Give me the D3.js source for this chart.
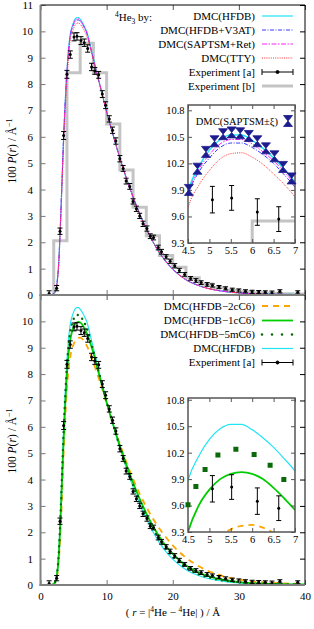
<!DOCTYPE html>
<html lang="en">
<head>
<meta charset="UTF-8" />
<title>4He3 P(r)</title>
<script src="https://d3js.org/d3.v7.min.js"></script>
<style>
  body { margin: 0; background: #fff; }
  svg { display: block; font-family: "Liberation Serif", "DejaVu Serif", serif; }
</style>
</head>
<body>
<svg width="314" height="629"></svg>
<script>
// ---- data ----
const rGrid = [1.5, 2, 2.25, 2.5, 2.75, 3, 3.25, 3.5, 3.75, 4, 4.25, 4.5, 4.75, 5, 5.25,
  5.5, 5.75, 6, 6.25, 6.5, 6.75, 7, 7.5, 8, 8.5, 9, 9.5, 10, 11, 12,
  13, 14, 15, 16, 17, 18, 19, 20, 22, 24, 26, 28, 30, 32, 35, 38, 40];

const hfdb = [0, 0.05, 0.15, 0.45, 1.2, 2.6, 4.3, 6.0, 7.4, 8.5, 9.35, 9.89, 10.16, 10.35, 10.47,
  10.52, 10.52, 10.46, 10.37, 10.26, 10.13, 9.99, 9.5, 8.98, 8.45, 7.95, 7.45, 6.95, 6.05, 5.2,
  4.42, 3.72, 3.08, 2.52, 2.02, 1.6, 1.26, 0.98, 0.58, 0.35, 0.21, 0.13, 0.08, 0.05, 0.03, 0.02, 0.015];
const v3at = [0, 0.05, 0.15, 0.45, 1.2, 2.6, 4.3, 5.98, 7.37, 8.45, 9.28, 9.84, 10.1, 10.26, 10.38,
  10.43, 10.43, 10.38, 10.3, 10.2, 10.07, 9.93, 9.45, 8.95, 8.43, 7.94, 7.44, 6.95, 6.05, 5.2,
  4.42, 3.72, 3.08, 2.52, 2.02, 1.6, 1.26, 0.98, 0.58, 0.35, 0.21, 0.13, 0.08, 0.05, 0.03, 0.02, 0.015];
const saptRet = [0, 0.05, 0.15, 0.45, 1.2, 2.6, 4.3, 6.0, 7.38, 8.47, 9.3, 9.86, 10.13, 10.3, 10.42,
  10.47, 10.47, 10.42, 10.33, 10.23, 10.1, 9.96, 9.47, 8.96, 8.44, 7.95, 7.45, 6.95, 6.05, 5.2,
  4.42, 3.72, 3.08, 2.52, 2.02, 1.6, 1.26, 0.98, 0.58, 0.35, 0.21, 0.13, 0.08, 0.05, 0.03, 0.02, 0.015];
const tty = [0, 0.05, 0.14, 0.42, 1.12, 2.45, 4.1, 5.75, 7.1, 8.15, 9.0, 9.69, 9.95, 10.12, 10.25,
  10.31, 10.32, 10.27, 10.19, 10.08, 9.96, 9.82, 9.38, 8.9, 8.4, 7.92, 7.43, 6.94, 6.05, 5.2,
  4.42, 3.72, 3.08, 2.52, 2.02, 1.6, 1.26, 0.98, 0.58, 0.35, 0.21, 0.13, 0.08, 0.05, 0.03, 0.02, 0.015];

const c6m2 = [0, 0.03, 0.1, 0.32, 0.88, 1.9, 3.3, 5.0, 6.35, 7.45, 8.2, 8.65, 8.95, 9.13, 9.26,
  9.33, 9.37, 9.38, 9.35, 9.29, 9.2, 9.08, 8.78, 8.43, 8.07, 7.7, 7.3, 6.9, 6.1, 5.35,
  4.65, 4.02, 3.46, 2.96, 2.52, 2.13, 1.8, 1.5, 1.04, 0.7, 0.47, 0.31, 0.21, 0.14, 0.08, 0.05, 0.035];
const c6m1 = [0, 0.04, 0.13, 0.4, 1.05, 2.3, 3.9, 5.5, 6.9, 8.0, 8.78, 9.3, 9.6, 9.78, 9.9,
  9.96, 9.98, 9.96, 9.9, 9.8, 9.68, 9.55, 9.2, 8.8, 8.32, 7.85, 7.38, 6.92, 6.08, 5.28,
  4.55, 3.88, 3.27, 2.72, 2.24, 1.82, 1.47, 1.18, 0.74, 0.46, 0.29, 0.18, 0.11, 0.07, 0.04, 0.025, 0.02];
const c6m5 = [0, 0.05, 0.14, 0.43, 1.15, 2.5, 4.15, 5.85, 7.2, 8.3, 9.1, 9.61, 9.88, 10.08, 10.19,
  10.24, 10.24, 10.19, 10.12, 10.02, 9.89, 9.74, 9.3, 8.87, 8.38, 7.9, 7.42, 6.95, 6.07, 5.24,
  4.49, 3.8, 3.18, 2.62, 2.13, 1.71, 1.36, 1.08, 0.66, 0.4, 0.25, 0.16, 0.1, 0.065, 0.035, 0.022, 0.017];

const expR = [1.3, 2.45, 2.95, 3.5, 4.0, 4.5, 5.07, 5.52, 6.12, 6.62, 7.14, 7.72, 8.22, 8.8, 9.35,
  9.85, 10.4, 10.9, 11.4, 12.0, 12.5, 12.95, 13.5, 14.0, 14.5, 15.0, 15.5, 16.1, 16.6, 17.1,
  17.8, 18.3, 19.0, 19.6, 20.3, 21.0, 21.8, 22.7, 23.5, 24.3, 25.2, 26.0, 27.0, 28.0, 29.0,
  30.0, 31.0, 32.0, 33.0, 34.0, 35.0, 36.2, 38.9];
const expP = [0.06, 0.26, 2.42, 6.05, 8.37, 9.12, 9.79, 9.81, 9.65, 9.57, 9.35, 8.65, 8.5, 8.35, 7.62,
  7.2, 6.68, 6.25, 5.84, 5.17, 4.8, 4.32, 4.12, 3.55, 3.27, 3.0, 2.7, 2.52, 2.23, 2.18,
  1.8, 1.64, 1.45, 1.28, 1.11, 0.93, 0.78, 0.63, 0.55, 0.47, 0.4, 0.36, 0.3, 0.25, 0.2,
  0.17, 0.14, 0.12, 0.11, 0.1, 0.09, 0.14, 0.1];
const expErr = [0.1, 0.1, 0.12, 0.15, 0.15, 0.14, 0.15, 0.14, 0.15, 0.14, 0.14, 0.14, 0.13, 0.13, 0.13,
  0.13, 0.12, 0.12, 0.12, 0.12, 0.11, 0.11, 0.11, 0.1, 0.1, 0.1, 0.1, 0.1, 0.09, 0.09,
  0.09, 0.09, 0.08, 0.08, 0.08, 0.08, 0.07, 0.07, 0.07, 0.07, 0.07, 0.06, 0.06, 0.06, 0.06,
  0.06, 0.06, 0.06, 0.06, 0.06, 0.06, 0.06, 0.06];

const histEdges = [2, 4, 6, 8, 10, 12, 14, 16, 18, 20, 22, 24, 26, 28, 30, 32, 34, 36, 38, 40];
const histP = [2.06, 8.43, 9.55, 8.43, 6.49, 4.74, 3.33, 2.25, 1.5, 1.05, 0.65, 0.42, 0.28, 0.18,
  0.12, 0.09, 0.07, 0.05, 0.04];

const saptR = [4.52, 4.72, 4.92, 5.12, 5.32, 5.52, 5.72, 5.92, 6.12, 6.32, 6.52, 6.72, 6.92];
const saptP = [9.90, 10.14, 10.33, 10.45, 10.53, 10.55, 10.54, 10.51, 10.45, 10.37, 10.28, 10.16, 10.03];

const xTicks = [0, 10, 20, 30, 40];
const insetXTicks = [4.5, 5, 5.5, 6, 6.5, 7];
const insetYTicks = [9.3, 9.6, 9.9, 10.2, 10.5, 10.8];

// ---- styles ----
const sty = {
  hfdb: { color: "#22e4f2", dash: null, w: 1.2 },
  v3at: { color: "#3a3aff", dash: "4,1.5,1,1.5", w: 1 },
  sapt: { color: "#ff22ff", dash: "5,1.5,1.5,1.5", w: 1 },
  tty: { color: "#ff3030", dash: "1,1.2", w: 1 },
  m2: { color: "#ffa500", dash: "6,5", w: 1.8 },
  m1: { color: "#00cc00", dash: null, w: 1.8 },
  m5: { color: "#0a6a0a", dash: "0,6", w: 2.4, cap: "round" }
};

const svg = d3.select("svg");
const x = d3.scaleLinear().domain([0, 40]).range([40.5, 305]);
const xi = d3.scaleLinear().domain([4.5, 7]).range([188, 295]);
const serif = '"Liberation Serif", "DejaVu Serif", serif';

const pts = arr => rGrid.map((r, i) => [r, arr[i]]);
let clipId = 0;
function clip(x0, y0, x1, y1) {
  const id = "c" + (clipId++);
  svg.append("clipPath").attr("id", id).append("rect")
    .attr("x", x0).attr("y", y0).attr("width", x1 - x0).attr("height", y1 - y0);
  return "url(#" + id + ")";
}

function curve(g, xs, ys, data, s, w) {
  g.append("path").datum(data)
    .attr("fill", "none").attr("stroke", s.color)
    .attr("stroke-width", w || s.w)
    .attr("stroke-dasharray", s.dash)
    .attr("stroke-linecap", s.cap || "butt")
    .attr("d", d3.line().x(d => xs(d[0])).y(d => ys(d[1])).curve(d3.curveMonotoneX));
}

function hist(g, xs, ys) {
  const d = histEdges.map((e, i) => [e, i < histP.length ? histP[i] : histP[histP.length - 1]]);
  d.unshift([2, 0]);
  g.append("path").datum(d)
    .attr("fill", "none").attr("stroke", "#c4c4c4").attr("stroke-width", 3)
    .attr("d", d3.line().x(p => xs(p[0])).y(p => ys(p[1])).curve(d3.curveStepAfter));
}

function expPoints(g, xs, ys, filter) {
  const data = expR.map((r, i) => ({ r, p: expP[i], e: expErr[i] })).filter(filter || (() => true));
  const gg = g.append("g").attr("stroke", "#000").attr("stroke-width", 1);
  data.forEach(d => {
    const cx = xs(d.r), y1 = ys(d.p - d.e), y2 = ys(d.p + d.e);
    gg.append("line").attr("x1", cx).attr("x2", cx).attr("y1", y1).attr("y2", y2);
    gg.append("line").attr("x1", cx - 2.5).attr("x2", cx + 2.5).attr("y1", y1).attr("y2", y1);
    gg.append("line").attr("x1", cx - 2.5).attr("x2", cx + 2.5).attr("y1", y2).attr("y2", y2);
    gg.append("circle").attr("cx", cx).attr("cy", ys(d.p)).attr("r", 1.5).attr("fill", "#000").attr("stroke", "none");
  });
}

function hourglass(g, cx, cy) {
  g.append("path")
    .attr("d", `M${cx - 4.5},${cy - 5.5}L${cx + 4.5},${cy - 5.5}L${cx},${cy}Z M${cx - 4.5},${cy + 5.5}L${cx + 4.5},${cy + 5.5}L${cx},${cy}Z`)
    .attr("fill", "#1c1c8e").attr("stroke", "#1c1c8e").attr("stroke-width", 0.8);
}

function styleAxis(g, size) {
  g.select(".domain").remove();
  g.attr("font-family", serif).attr("font-size", size || 11);
  g.selectAll("text").attr("fill", "#000");
}

// ---- main panel frame + axes ----
function mainAxes(y, yTicks, showX) {
  svg.append("g").attr("transform", "translate(40.5,0)")
    .call(d3.axisLeft(y).tickValues(yTicks).tickSize(-5).tickPadding(7.5))
    .call(g => styleAxis(g, 11))
    .call(g => g.selectAll("line").attr("stroke", "#777"));
  svg.append("g").attr("transform", "translate(305,0)")
    .call(d3.axisRight(y).tickValues(yTicks).tickSize(-5).tickFormat(""))
    .call(g => styleAxis(g))
    .call(g => g.selectAll("line").attr("stroke", "#000"));
  const [y0, y1] = y.range();
  svg.append("g").attr("transform", `translate(0,${y0})`)
    .call(d3.axisBottom(x).tickValues(xTicks).tickSize(-5).tickPadding(7).tickFormat(showX ? d3.format("d") : ""))
    .call(g => styleAxis(g, 11))
    .call(g => g.selectAll("line").attr("stroke", "#777"));
  svg.append("g").attr("transform", `translate(0,${y1})`)
    .call(d3.axisTop(x).tickValues(xTicks).tickSize(-5).tickFormat(""))
    .call(g => styleAxis(g))
    .call(g => g.selectAll("line").attr("stroke", "#555"));
  svg.append("line").attr("x1", 305).attr("x2", 305).attr("y1", y1).attr("y2", y0).attr("stroke", "#000");
  if (y1 < 10) svg.append("line").attr("x1", 40.5).attr("x2", 305).attr("y1", y1).attr("y2", y1).attr("stroke", "#000");
  svg.append("line").attr("x1", 40.5).attr("x2", 40.5).attr("y1", y1).attr("y2", y0 + 1).attr("stroke", "#808080").attr("stroke-width", 2);
  svg.append("line").attr("x1", 39.5).attr("x2", 305).attr("y1", y0).attr("y2", y0).attr("stroke", "#808080").attr("stroke-width", 2);
}

function insetAxes(yi) {
  const [b, t] = yi.range();
  svg.append("g").attr("transform", "translate(188,0)")
    .call(d3.axisLeft(yi).tickValues(insetYTicks).tickSize(-4).tickPadding(3.5))
    .call(g => styleAxis(g, 10.5))
    .call(g => g.selectAll("line").attr("stroke", "#555"));
  svg.append("g").attr("transform", "translate(295,0)")
    .call(d3.axisRight(yi).tickValues(insetYTicks).tickSize(-4).tickFormat(""))
    .call(g => styleAxis(g))
    .call(g => g.selectAll("line").attr("stroke", "#555"));
  svg.append("g").attr("transform", `translate(0,${b})`)
    .call(d3.axisBottom(xi).tickValues(insetXTicks).tickSize(-4).tickPadding(4).tickFormat(d3.format("")))
    .call(g => styleAxis(g, 10.5))
    .call(g => g.selectAll("line").attr("stroke", "#555"));
  svg.append("g").attr("transform", `translate(0,${t})`)
    .call(d3.axisTop(xi).tickValues(insetXTicks).tickSize(-4).tickFormat(""))
    .call(g => styleAxis(g))
    .call(g => g.selectAll("line").attr("stroke", "#555"));
  svg.append("rect").attr("x", 188).attr("y", t).attr("width", 107).attr("height", b - t)
    .attr("fill", "none").attr("stroke", "#555").attr("stroke-width", 1.5);
}

function legendRow(y, label, draw) {
  svg.append("text").attr("x", 255).attr("y", y + 3.8).attr("text-anchor", "end")
    .attr("font-size", 11).text(label);
  draw(y);
}
function legLine(s, y) {
  svg.append("line").attr("x1", 262).attr("x2", 293).attr("y1", y).attr("y2", y)
    .attr("stroke", s.color).attr("stroke-width", s.w).attr("stroke-dasharray", s.dash)
    .attr("stroke-linecap", s.cap || "butt");
}
function legExp(y) {
  const g = svg.append("g").attr("stroke", "#000");
  g.append("line").attr("x1", 262).attr("x2", 293).attr("y1", y).attr("y2", y);
  g.append("line").attr("x1", 262).attr("x2", 262).attr("y1", y - 3).attr("y2", y + 3);
  g.append("line").attr("x1", 293).attr("x2", 293).attr("y1", y - 3).attr("y2", y + 3);
  g.append("circle").attr("cx", 277.5).attr("cy", y).attr("r", 1.5).attr("fill", "#000");
}

// ================= TOP PANEL =================
const yTop = d3.scaleLinear().domain([0, 11]).range([295, 5]);
{
  const g = svg.append("g").attr("clip-path", clip(40.5, 5, 305, 295));
  hist(g, x, yTop);
  curve(g, x, yTop, pts(hfdb), sty.hfdb);
  curve(g, x, yTop, pts(v3at), sty.v3at);
  curve(g, x, yTop, pts(saptRet), sty.sapt);
  curve(g, x, yTop, pts(tty), sty.tty);
  expPoints(g, x, yTop);
}
mainAxes(yTop, d3.range(0, 12), false);

// top inset
const yiTop = d3.scaleLinear().domain([9.3, 10.86]).range([243, 105]);
svg.append("rect").attr("x", 188).attr("y", 105).attr("width", 107).attr("height", 138).attr("fill", "#fff");
{
  const g = svg.append("g").attr("clip-path", clip(188, 105, 295, 243));
  hist(g, xi, yiTop);
  curve(g, xi, yiTop, pts(tty), sty.tty);
  curve(g, xi, yiTop, pts(v3at), sty.v3at);
  curve(g, xi, yiTop, pts(saptRet), sty.sapt);
  curve(g, xi, yiTop, pts(hfdb), sty.hfdb, 1.5);
  expPoints(g, xi, yiTop, d => d.r > 4.8 && d.r < 7);
}
insetAxes(yiTop);
saptR.forEach((r, i) => hourglass(svg, xi(r), yiTop(saptP[i])));
svg.append("text").attr("x", 278).attr("y", 124.5).attr("text-anchor", "end")
  .attr("font-size", 10.5).text("DMC(SAPTSM\u00b1\u03be)");
hourglass(svg, 288, 121);

// top legend
{
  const t = svg.append("text").attr("x", 115).attr("y", 21).attr("font-size", 11);
  t.append("tspan").attr("font-size", 7.5).attr("dy", -4.5).text("4");
  t.append("tspan").attr("dy", 4.5).text("He");
  t.append("tspan").attr("font-size", 7.5).attr("dy", 3).text("3");
  t.append("tspan").attr("dy", -3).text(" by:");
}
legendRow(16, "DMC(HFDB)", y => legLine(sty.hfdb, y));
legendRow(30, "DMC(HFDB+V3AT)", y => legLine(sty.v3at, y));
legendRow(44, "DMC(SAPTSM+Ret)", y => legLine(sty.sapt, y));
legendRow(58, "DMC(TTY)", y => legLine(sty.tty, y));
legendRow(72, "Experiment [a]", y => legExp(y));
legendRow(86, "Experiment [b]", y => svg.append("line").attr("x1", 262).attr("x2", 293)
  .attr("y1", y).attr("y2", y).attr("stroke", "#c4c4c4").attr("stroke-width", 3));

// ================= BOTTOM PANEL =================
const yBot = d3.scaleLinear().domain([0, 11]).range([585, 295]);
{
  const g = svg.append("g").attr("clip-path", clip(40.5, 295, 305, 585));
  curve(g, x, yBot, pts(hfdb), sty.hfdb);
  curve(g, x, yBot, pts(c6m2), sty.m2);
  curve(g, x, yBot, pts(c6m1), sty.m1);
  curve(g, x, yBot, pts(c6m5), sty.m5);
  expPoints(g, x, yBot);
}
mainAxes(yBot, d3.range(0, 11), true);

// bottom inset
const yiBot = d3.scaleLinear().domain([9.3, 10.82]).range([532, 398]);
svg.append("rect").attr("x", 188).attr("y", 398).attr("width", 107).attr("height", 134).attr("fill", "#fff");
{
  const g = svg.append("g").attr("clip-path", clip(188, 398, 295, 532));
  curve(g, xi, yiBot, pts(hfdb), sty.hfdb);
  curve(g, xi, yiBot, pts(c6m2), sty.m2, 1.8);
  curve(g, xi, yiBot, pts(c6m1), sty.m1, 1.8);
  expPoints(g, xi, yiBot, d => d.r > 4.8 && d.r < 7);
}
insetAxes(yiBot);
// dotted series in inset: big square dots, only over the inset range
{
  const d = rGrid.map((r, i) => [r, c6m5[i]]).filter(p => p[0] >= 4.5 && p[0] <= 7);
  const g = svg.append("g").attr("clip-path", clip(184, 398, 299, 532));
  curve(g, xi, yiBot, d, { color: "#0a6a0a", dash: "0,19.5", w: 5, cap: "square" });
}

// bottom legend
legendRow(306, "DMC(HFDB\u22122cC6)", y => legLine(sty.m2, y));
legendRow(320.5, "DMC(HFDB\u22121cC6)", y => legLine(sty.m1, y));
legendRow(334.5, "DMC(HFDB\u22125mC6)", y => legLine({ color: "#0a6a0a", dash: "0,10", w: 2.6, cap: "round" }, y));
legendRow(348.5, "DMC(HFDB)", y => legLine(sty.hfdb, y));
legendRow(362.5, "Experiment [a]", y => legExp(y));

// ---- axis titles ----
function yTitle(cy) {
  const t = svg.append("text").attr("transform", `translate(16,${cy}) rotate(-90)`)
    .attr("text-anchor", "middle").attr("font-size", 11.5);
  t.append("tspan").text("100 ");
  t.append("tspan").attr("font-style", "italic").text("P");
  t.append("tspan").text("(");
  t.append("tspan").attr("font-style", "italic").text("r");
  t.append("tspan").text(") / \u00c5");
  t.append("tspan").attr("font-size", 8).attr("dy", -4.5).text("\u22121");
}
yTitle(151);
yTitle(441);
{
  const t = svg.append("text").attr("x", 173).attr("y", 616).attr("text-anchor", "middle").attr("font-size", 11);
  t.append("tspan").text("( ");
  t.append("tspan").attr("font-style", "italic").text("r");
  t.append("tspan").text(" = |");
  t.append("tspan").attr("font-size", 7.5).attr("dy", -4.5).text("4");
  t.append("tspan").attr("dy", 4.5).text("He \u2212 ");
  t.append("tspan").attr("font-size", 7.5).attr("dy", -4.5).text("4");
  t.append("tspan").attr("dy", 4.5).text("He| ) / \u00c5");
}
</script>
</body>
</html>
